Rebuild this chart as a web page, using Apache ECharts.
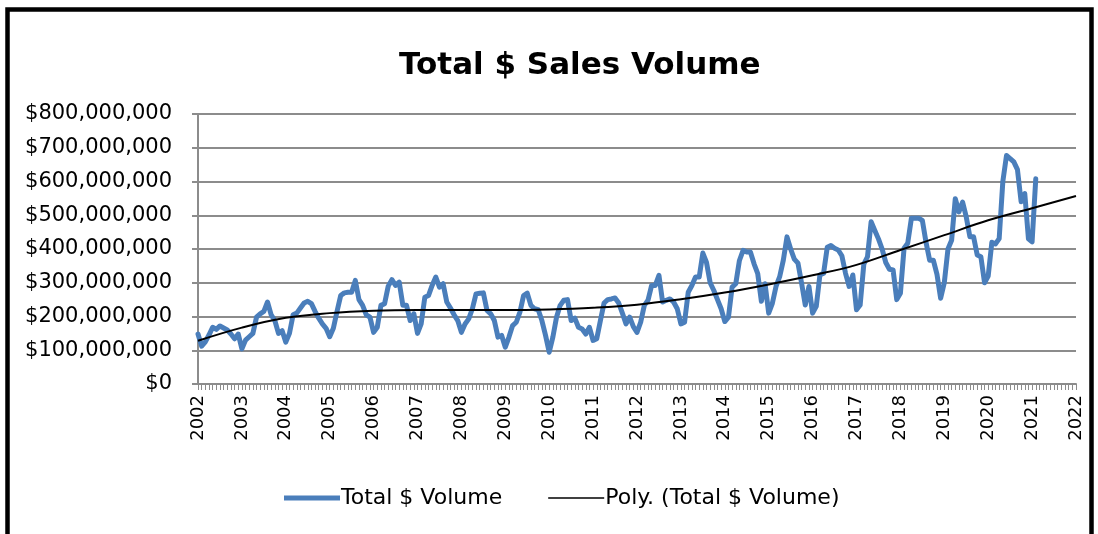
<!DOCTYPE html>
<html>
<head>
<meta charset="utf-8">
<script src="https://cdn.jsdelivr.net/npm/echarts@6/dist/echarts.min.js"></script>
<style>
  html, body { margin: 0; padding: 0; background: #fff; }
  #chart { width: 1098px; height: 534px; }
</style>
</head>
<body>
<div id="chart"></div>
<script>
// ---- Data (values in millions of dollars), monthly from Jan 2002 ----
const startYear = 2002;
const endYear = 2022;
const yTicks = [0, 100, 200, 300, 400, 500, 600, 700, 800];

const v2002 = [148, 112, 125, 145, 168, 162, 172, 166, 160, 148, 134, 148];
const v2003 = [104, 130, 140, 150, 198, 208, 215, 243, 205, 188, 150, 158];
const v2004 = [124, 150, 205, 210, 225, 240, 245, 238, 215, 195, 178, 165];
const v2005 = [140, 165, 215, 262, 270, 272, 272, 307, 250, 233, 205, 198];
const v2006 = [153, 168, 233, 238, 290, 309, 292, 302, 233, 233, 188, 208];
const v2007 = [150, 178, 257, 262, 292, 317, 287, 297, 243, 225, 205, 188];
const v2008 = [153, 178, 193, 223, 267, 269, 270, 218, 208, 188, 139, 144];
const v2009 = [109, 139, 173, 183, 213, 262, 269, 233, 223, 220, 188, 144];
const v2010 = [94, 139, 198, 233, 248, 250, 188, 195, 168, 163, 148, 168];
const v2011 = [129, 134, 188, 240, 250, 252, 255, 240, 210, 178, 198, 170];
const v2012 = [153, 183, 233, 248, 292, 292, 322, 243, 248, 252, 243, 223];
const v2013 = [178, 183, 272, 292, 317, 317, 388, 360, 300, 277, 250, 223];
const v2014 = [185, 198, 287, 297, 366, 396, 391, 391, 356, 327, 245, 297];
const v2015 = [210, 239, 289, 318, 367, 436, 400, 370, 358, 298, 234, 289];
const v2016 = [210, 230, 323, 328, 405, 410, 402, 397, 380, 328, 289, 323];
const v2017 = [220, 234, 355, 377, 481, 455, 430, 400, 360, 340, 338, 250];
const v2018 = [269, 402, 417, 491, 491, 491, 485, 420, 367, 367, 325, 254];
const v2019 = [300, 400, 426, 549, 510, 539, 495, 436, 436, 382, 377, 300];
const v2020 = [320, 420, 415, 431, 600, 677, 668, 658, 635, 540, 564, 430];
const v2021 = [421, 608];

// Polynomial trend line read at each January, 2002..2022 (millions)
const trendByYear = [128, 167, 196, 210, 217, 219, 219, 219, 221, 226, 235,
                     251, 271, 295, 322, 353, 397, 441, 485, 521, 557];

const monthly = [].concat(v2002, v2003, v2004, v2005, v2006, v2007, v2008,
  v2009, v2010, v2011, v2012, v2013, v2014, v2015, v2016, v2017, v2018,
  v2019, v2020, v2021);

const M = 1e6;
const volData = monthly.map((v, i) => [i, v * M]);
const trendData = trendByYear.map((v, i) => [i * 12, v * M]);

const chart = echarts.init(document.getElementById('chart'), null, { renderer: 'canvas' });
const FONT = '"DejaVu Sans", sans-serif';

chart.setOption({
  backgroundColor: '#ffffff',
  animation: false,
  title: {
    text: 'Total $ Sales Volume',
    left: 394,
    top: 45,
    textStyle: { fontFamily: FONT, fontSize: 31, fontWeight: 'bold', color: '#000' }
  },
  graphic: [{
    type: 'rect',
    shape: { x: 7.5, y: 9.5, width: 1084, height: 560 },
    style: { fill: 'none', stroke: '#000', lineWidth: 4.5 },
    silent: true, z: 100
  }],
  legend: {
    left: 279,
    top: 482,
    itemGap: 46,
    itemWidth: 56,
    itemHeight: 14,
    textStyle: { fontFamily: FONT, fontSize: 22, color: '#000', padding: [0, 0, 0, -4] },
    data: [
      { name: 'Total $ Volume', icon: 'path://M0,6 L56,6 L56,11 L0,11 Z', itemStyle: { color: '#4a7ebb' } },
      { name: 'Poly. (Total $ Volume)', icon: 'path://M0,8 L56,8 L56,9.5 L0,9.5 Z', itemStyle: { color: '#000' } }
    ]
  },
  grid: { left: 198, right: 22, top: 114, bottom: 150, containLabel: false },
  xAxis: {
    type: 'value',
    min: 0,
    max: (endYear - startYear) * 12,
    interval: 12,
    axisLine: { show: true, lineStyle: { color: '#8c8c8c', width: 2 } },
    axisTick: { show: true, length: 6, lineStyle: { color: '#8c8c8c', width: 1 } },
    minorTick: { show: true, splitNumber: 12, length: 6, lineStyle: { color: '#8c8c8c', width: 1 } },
    splitLine: { show: false },
    axisLabel: {
      rotate: 90,
      margin: 11,
      fontFamily: FONT,
      fontSize: 18,
      color: '#000',
      formatter: v => String(startYear + v / 12)
    }
  },
  yAxis: {
    type: 'value',
    min: yTicks[0] * M,
    max: yTicks[yTicks.length - 1] * M,
    interval: 100 * M,
    axisLine: { show: true, lineStyle: { color: '#8c8c8c', width: 2 } },
    axisTick: { show: true, length: 6, lineStyle: { color: '#8c8c8c', width: 2 } },
    splitLine: { show: true, lineStyle: { color: '#8c8c8c', width: 2 } },
    axisLabel: {
      margin: 26,
      fontFamily: FONT,
      fontSize: 21,
      color: '#000',
      formatter: v => '$' + Math.round(v).toLocaleString('en-US')
    }
  },
  series: [
    {
      name: 'Total $ Volume',
      type: 'line',
      data: volData,
      showSymbol: false,
      symbol: 'none',
      lineStyle: { color: '#4a7ebb', width: 5, join: 'round', cap: 'round' },
      itemStyle: { color: '#4a7ebb' },
      z: 2
    },
    {
      name: 'Poly. (Total $ Volume)',
      type: 'line',
      data: trendData,
      smooth: 0.4,
      showSymbol: false,
      symbol: 'none',
      lineStyle: { color: '#000', width: 2 },
      itemStyle: { color: '#000' },
      z: 3
    }
  ]
});
</script>
</body>
</html>
